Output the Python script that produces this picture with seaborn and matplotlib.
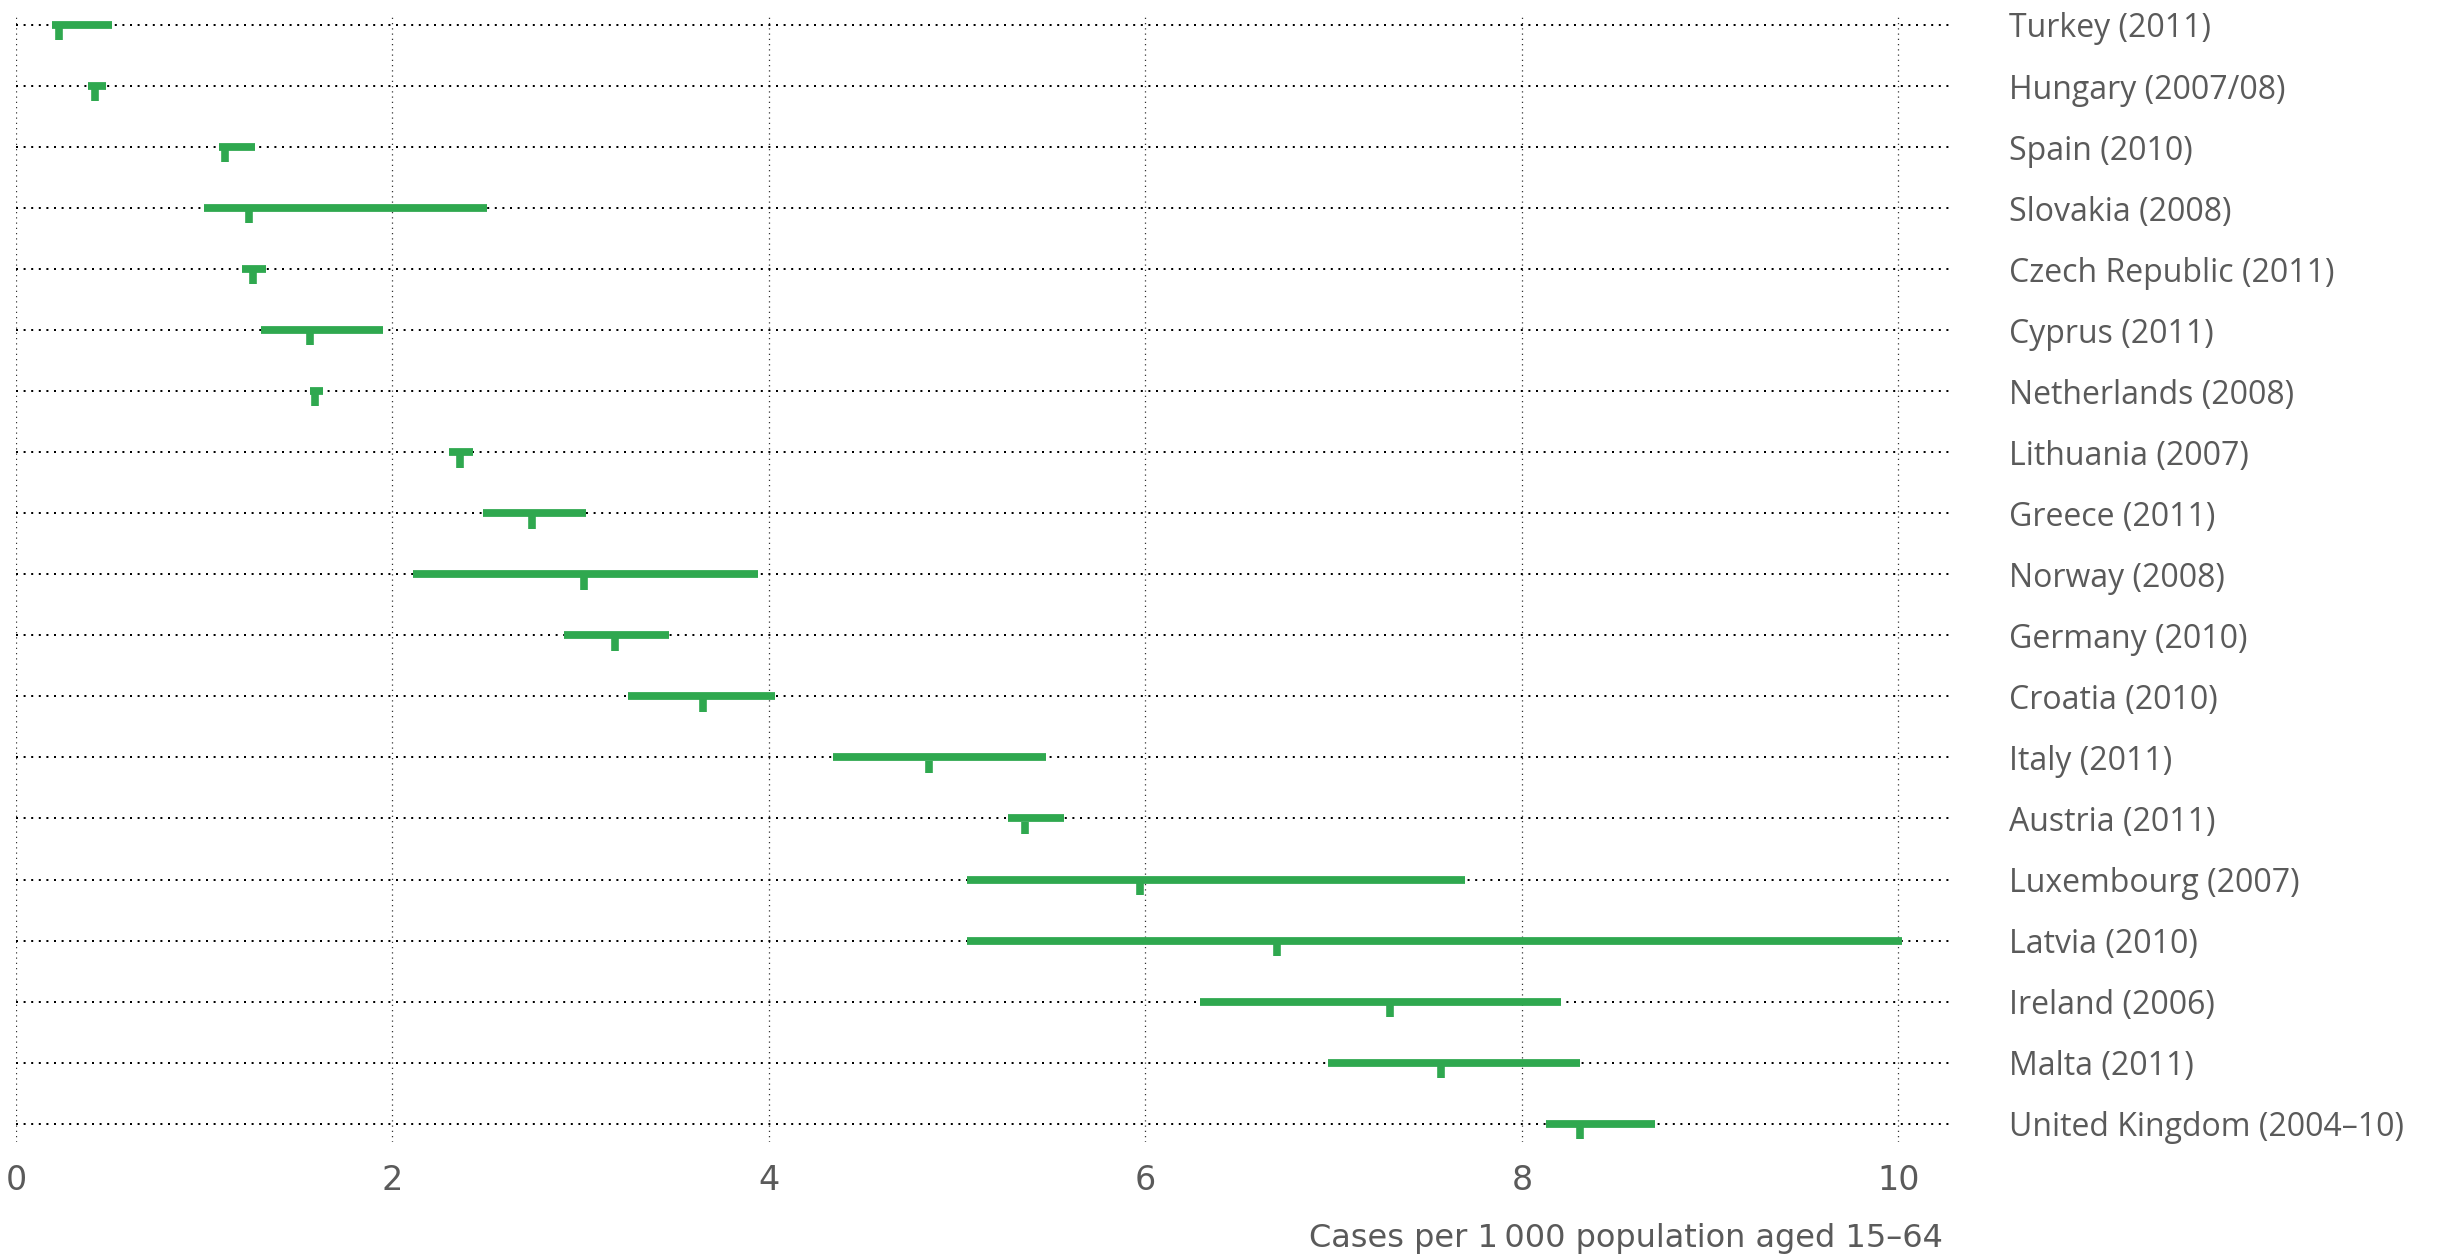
import numpy as np
import pandas as pd
import matplotlib
matplotlib.use("Agg")
import matplotlib.pyplot as plt
import seaborn as sns

# DATA
countries = ["Turkey (2011)", "Hungary (2007/08)", "Spain (2010)", "Slovakia (2008)",
             "Czech Republic (2011)", "Cyprus (2011)", "Netherlands (2008)",
             "Lithuania (2007)", "Greece (2011)", "Norway (2008)", "Germany (2010)",
             "Croatia (2010)", "Italy (2011)", "Austria (2011)", "Luxembourg (2007)",
             "Latvia (2010)", "Ireland (2006)", "Malta (2011)", "United Kingdom (2004\u201310)"]
low = [0.19, 0.38, 1.08, 1.00, 1.20, 1.30, 1.56, 2.30, 2.48, 2.11, 2.91, 3.25,
       4.34, 5.27, 5.05, 5.05, 6.29, 6.97, 8.13]
high = [0.51, 0.48, 1.27, 2.50, 1.33, 1.95, 1.63, 2.43, 3.03, 3.94, 3.47, 4.03,
        5.47, 5.57, 7.70, 10.02, 8.21, 8.31, 8.71]
estimate = [0.23, 0.42, 1.11, 1.24, 1.26, 1.56, 1.59, 2.36, 2.74, 3.02, 3.18, 3.65,
            4.85, 5.36, 5.97, 6.70, 7.30, 7.57, 8.31]
xticks = [0, 2, 4, 6, 8, 10]
xlabel = "Cases per 1\u2009000 population aged 15\u201364"

green = "#2fa84f"
grey = "#5a5a5a"

sns.set_theme(style="white")
plt.rcParams["font.family"] = ["Open Sans", "DejaVu Sans"]

pos = np.arange(len(countries))
ranges = pd.DataFrame({
    "country": countries * 2,
    "pos": np.concatenate([pos, pos]),
    "value": low + high,
})

fig = plt.figure(figsize=(24.51, 12.55), dpi=100)
ax = fig.add_axes([16 / 2451, 1 - 1142 / 1255, (1951 - 16) / 2451, 1128 / 1255])

# range bars, one line per country
sns.lineplot(data=ranges, x="value", y="pos", units="country", estimator=None,
             sort=False, orient="y", color=green, lw=5.6, solid_capstyle="butt",
             ax=ax, zorder=3)
# point estimate: short tick hanging below the bar
ax.vlines(estimate, pos + 0.05, pos + 0.25, color=green, lw=5.5,
          capstyle="butt", zorder=3)

ax.set_xlim(0, 10.28)
ax.set_ylim(18.3, -0.18)
ax.set_xticks(xticks)
ax.set_xticklabels([str(t) for t in xticks], family=["Liberation Sans Narrow", "DejaVu Sans"],
                   fontsize=24, color=grey)
ax.set_yticks(pos)
ax.set_yticklabels(countries, fontsize=23, color=grey)
ax.yaxis.tick_right()
ax.tick_params(axis="y", length=0, pad=42)
ax.tick_params(axis="x", length=0, pad=16)

ax.grid(axis="y", color="black", lw=1.44, linestyle=(0, (1, 2.8)))
ax.grid(axis="x", color="#333333", lw=0.9, linestyle=(0, (1, 3.2)))
ax.set_axisbelow(True)
sns.despine(ax=ax, left=True, bottom=True)
ax.set_xlabel("")
ax.set_ylabel("")

fig.text(1943 / 2451, 1 - 1247 / 1255, xlabel, ha="right", va="baseline",
         fontsize=23, color=grey, family=["Liberation Sans Narrow", "DejaVu Sans"])

fig.savefig("out.png", dpi=100)
